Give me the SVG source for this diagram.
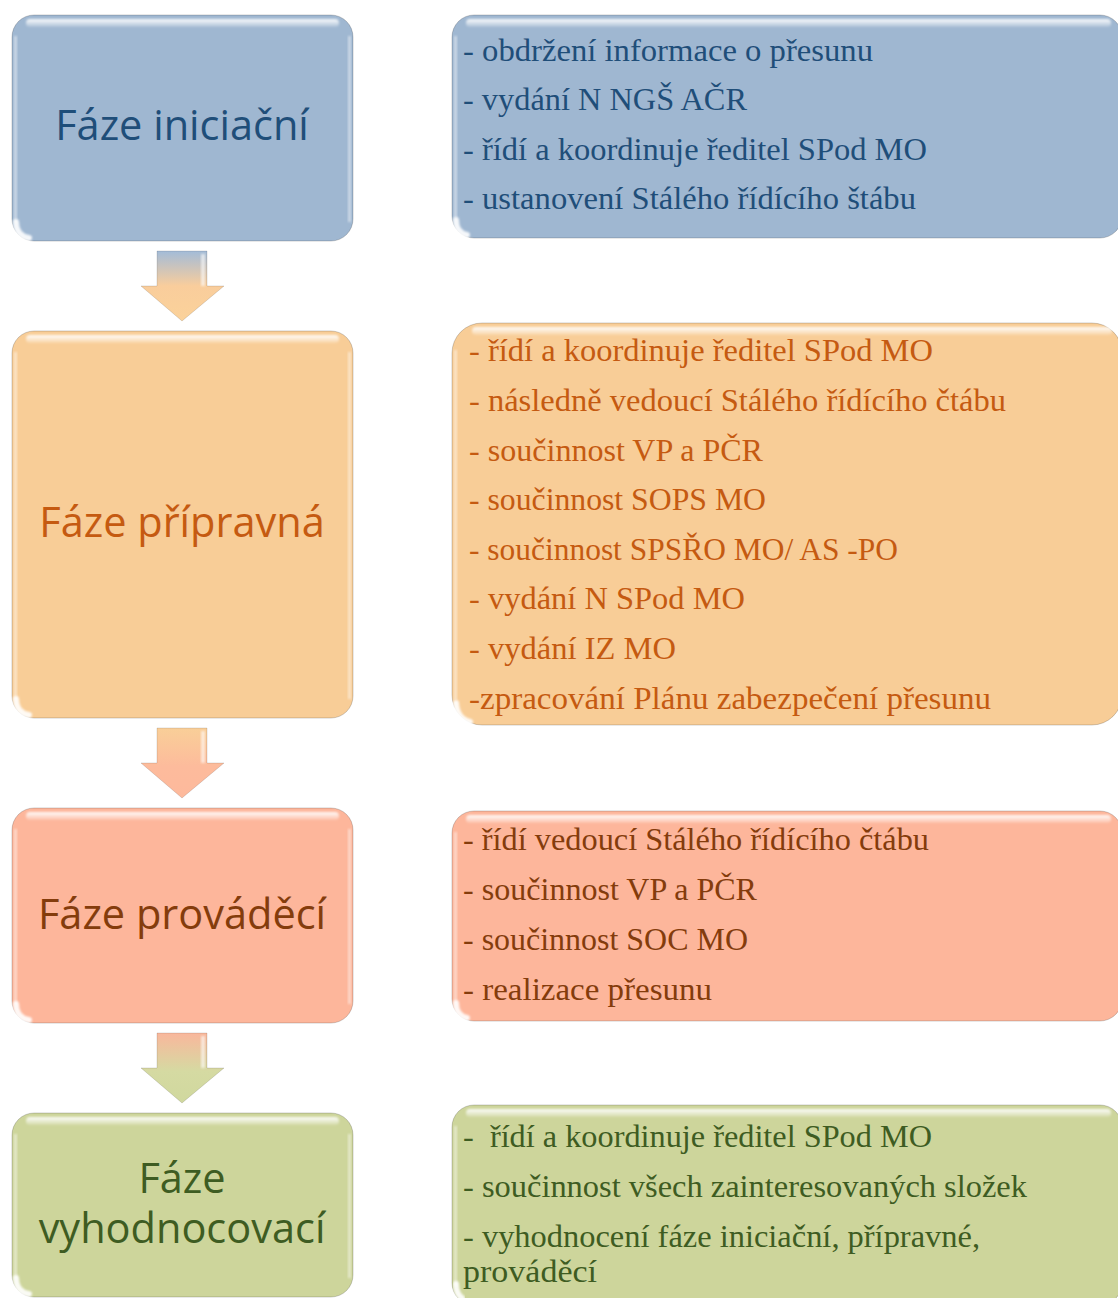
<svg xmlns="http://www.w3.org/2000/svg" width="1118" height="1298" viewBox="0 0 1118 1298">
<style>
.box{stroke:#000;stroke-opacity:.18;stroke-width:1}
.blue{fill:#9FB7D1}.orange{fill:#F8CD97}.salmon{fill:#FDB69B}.green{fill:#CDD59B}
.hl-top{fill:url(#hlTop);filter:url(#soft)}
.hl-side{fill:#fff;opacity:.45;filter:url(#soft)}
.blob{fill:none;stroke:#fff;stroke-width:6;stroke-linecap:round;opacity:.9;filter:url(#soft2)}
.title{font-family:"Open Sans","Noto Sans","Liberation Sans",sans-serif;font-size:41.5px;text-anchor:middle}
.item{font-family:"Liberation Serif","DejaVu Serif",serif;font-size:31.5px}
.c-blue{fill:#1F4E79}.c-orange{fill:#C55A11}.c-salmon{fill:#843C0C}.c-green{fill:#3E5C22}
.arrow{stroke:#000;stroke-opacity:.12;stroke-width:1}
.arrow-hl{fill:#fff;opacity:.6;filter:url(#soft)}
</style>
<defs>
<linearGradient id="hlTop" x1="0" y1="0" x2="0" y2="1">
<stop offset="0" stop-color="#fff" stop-opacity=".95"/>
<stop offset="1" stop-color="#fff" stop-opacity=".15"/>
</linearGradient>
<filter id="soft" x="-20%" y="-50%" width="140%" height="200%"><feGaussianBlur stdDeviation="1.2"/></filter>
<filter id="soft2" x="-50%" y="-50%" width="200%" height="200%"><feGaussianBlur stdDeviation="1.2"/></filter>
<linearGradient id="ag1" gradientUnits="userSpaceOnUse" x1="0" y1="251" x2="0" y2="321">
<stop offset="0" stop-color="#A3BCD8"/><stop offset=".5" stop-color="#F9CD9C"/><stop offset="1" stop-color="#FBD29A"/>
</linearGradient>
<linearGradient id="ag2" gradientUnits="userSpaceOnUse" x1="0" y1="728" x2="0" y2="798">
<stop offset="0" stop-color="#F9CF98"/><stop offset=".55" stop-color="#FDBB9C"/><stop offset="1" stop-color="#FDB99C"/>
</linearGradient>
<linearGradient id="ag3" gradientUnits="userSpaceOnUse" x1="0" y1="1033" x2="0" y2="1103">
<stop offset="0" stop-color="#F9B79C"/><stop offset=".55" stop-color="#D5DAA2"/><stop offset="1" stop-color="#D0D89E"/>
</linearGradient>
</defs>

<g id="connectors">
<g id="arrow-1">
<path class="arrow" fill="url(#ag1)" d="M157,251 H207 V286 H224 L182,321 L141,286 H157 Z"/>
<rect class="arrow-hl" x="201" y="254" width="4" height="32"/>
</g>
<g id="arrow-2">
<path class="arrow" fill="url(#ag2)" d="M157,728 H207 V763 H224 L182,798 L141,763 H157 Z"/>
<rect class="arrow-hl" x="201" y="731" width="4" height="32"/>
</g>
<g id="arrow-3">
<path class="arrow" fill="url(#ag3)" d="M157,1033 H207 V1068 H224 L182,1103 L141,1068 H157 Z"/>
<rect class="arrow-hl" x="201" y="1036" width="4" height="32"/>
</g>
</g>

<g id="phase-initiation">
<rect class="box blue" x="12" y="15" width="341" height="226" rx="22"/>
<rect class="hl-top" x="26" y="19" width="313" height="8" rx="4"/>
<rect class="hl-side" x="14" y="36" width="3" height="186"/>
<rect class="hl-side" x="348" y="36" width="3" height="186"/>
<path class="blob" d="M16,222 Q16,236 29,238"/>
<text class="title c-blue" x="182" y="140">Fáze iniciační</text>
</g>

<g id="details-initiation">
<rect class="box blue" x="452" y="15" width="670" height="223" rx="22"/>
<rect class="hl-top" x="466" y="19" width="645" height="8" rx="4"/>
<rect class="hl-side" x="454" y="36" width="3" height="183"/>
<path class="blob" d="M456,220 Q456,233 467,235"/>
<text class="item c-blue" x="463" y="61" textLength="410" lengthAdjust="spacingAndGlyphs">- obdržení informace o přesunu</text>
<text class="item c-blue" x="463" y="110" textLength="284" lengthAdjust="spacingAndGlyphs">- vydání N NGŠ AČR</text>
<text class="item c-blue" x="463" y="160" textLength="464" lengthAdjust="spacingAndGlyphs">- řídí a koordinuje ředitel SPod MO</text>
<text class="item c-blue" x="463" y="209" textLength="453" lengthAdjust="spacingAndGlyphs">- ustanovení Stálého řídícího štábu</text>
</g>

<g id="phase-preparation">
<rect class="box orange" x="12" y="331" width="341" height="387" rx="22"/>
<rect class="hl-top" x="26" y="335" width="313" height="8" rx="4"/>
<rect class="hl-side" x="14" y="352" width="3" height="347"/>
<rect class="hl-side" x="348" y="352" width="3" height="347"/>
<path class="blob" d="M16,699 Q16,713 29,715"/>
<text class="title c-orange" x="182" y="537">Fáze přípravná</text>
</g>

<g id="details-preparation">
<rect class="box orange" x="452" y="323" width="670" height="402" rx="30"/>
<rect class="hl-top" x="472" y="327" width="640" height="8" rx="4"/>
<rect class="hl-side" x="454" y="350" width="3" height="350"/>
<path class="blob" d="M456,703 Q457,719 470,722"/>
<text class="item c-orange" x="469" y="361" textLength="464" lengthAdjust="spacingAndGlyphs">- řídí a koordinuje ředitel SPod MO</text>
<text class="item c-orange" x="469" y="411" textLength="537" lengthAdjust="spacingAndGlyphs">- následně vedoucí Stálého řídícího čtábu</text>
<text class="item c-orange" x="469" y="461" textLength="294" lengthAdjust="spacingAndGlyphs">- součinnost VP a PČR</text>
<text class="item c-orange" x="469" y="510" textLength="297" lengthAdjust="spacingAndGlyphs">- součinnost SOPS MO</text>
<text class="item c-orange" x="469" y="560" textLength="429" lengthAdjust="spacingAndGlyphs">- součinnost SPSŘO MO/ AS -PO</text>
<text class="item c-orange" x="469" y="609" textLength="276" lengthAdjust="spacingAndGlyphs">- vydání N SPod MO</text>
<text class="item c-orange" x="469" y="659" textLength="207" lengthAdjust="spacingAndGlyphs">- vydání IZ MO</text>
<text class="item c-orange" x="469" y="709" textLength="522" lengthAdjust="spacingAndGlyphs">-zpracování Plánu zabezpečení přesunu</text>
</g>

<g id="phase-execution">
<rect class="box salmon" x="12" y="808" width="341" height="215" rx="22"/>
<rect class="hl-top" x="26" y="812" width="313" height="8" rx="4"/>
<rect class="hl-side" x="14" y="829" width="3" height="175"/>
<rect class="hl-side" x="348" y="829" width="3" height="175"/>
<path class="blob" d="M16,1004 Q16,1018 29,1020"/>
<text class="title c-salmon" x="182" y="929">Fáze prováděcí</text>
</g>

<g id="details-execution">
<rect class="box salmon" x="452" y="811" width="670" height="210" rx="22"/>
<rect class="hl-top" x="466" y="815" width="645" height="8" rx="4"/>
<rect class="hl-side" x="454" y="832" width="3" height="170"/>
<path class="blob" d="M456,1003 Q456,1016 467,1018"/>
<text class="item c-salmon" x="463" y="850" textLength="466" lengthAdjust="spacingAndGlyphs">- řídí vedoucí Stálého řídícího čtábu</text>
<text class="item c-salmon" x="463" y="900" textLength="294" lengthAdjust="spacingAndGlyphs">- součinnost VP a PČR</text>
<text class="item c-salmon" x="463" y="950" textLength="285" lengthAdjust="spacingAndGlyphs">- součinnost SOC MO</text>
<text class="item c-salmon" x="463" y="1000" textLength="249" lengthAdjust="spacingAndGlyphs">- realizace přesunu</text>
</g>

<g id="phase-evaluation">
<rect class="box green" x="12" y="1113" width="341" height="184" rx="22"/>
<rect class="hl-top" x="26" y="1117" width="313" height="8" rx="4"/>
<rect class="hl-side" x="14" y="1134" width="3" height="144"/>
<rect class="hl-side" x="348" y="1134" width="3" height="144"/>
<path class="blob" d="M16,1278 Q16,1292 29,1294"/>
<text class="title c-green" x="182" y="1193">Fáze<tspan x="182" y="1243">vyhodnocovací</tspan></text>
</g>

<g id="details-evaluation">
<rect class="box green" x="452" y="1105" width="670" height="200" rx="22"/>
<rect class="hl-top" x="466" y="1109" width="645" height="8" rx="4"/>
<rect class="hl-side" x="454" y="1126" width="3" height="160"/>
<path class="blob" d="M456,1284 Q456,1294 462,1298"/>
<text class="item c-green" x="463" y="1147" xml:space="preserve" textLength="469" lengthAdjust="spacingAndGlyphs">-  řídí a koordinuje ředitel SPod MO</text>
<text class="item c-green" x="463" y="1197" textLength="564" lengthAdjust="spacingAndGlyphs">- součinnost všech zainteresovaných složek</text>
<text class="item c-green" x="463" y="1247" textLength="517" lengthAdjust="spacingAndGlyphs">- vyhodnocení fáze iniciační, přípravné,</text>
<text class="item c-green" x="463" y="1282" textLength="134" lengthAdjust="spacingAndGlyphs">prováděcí</text>
</g>
</svg>
